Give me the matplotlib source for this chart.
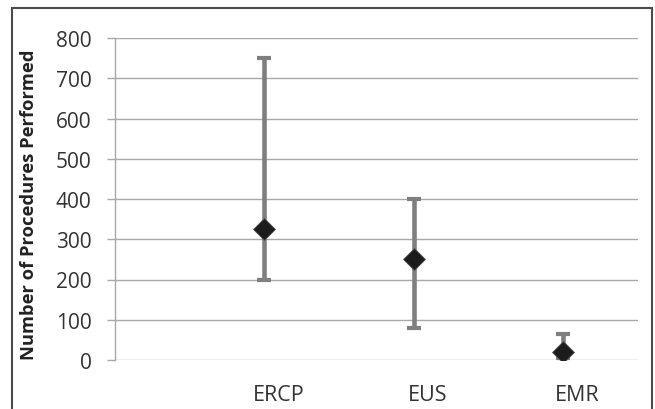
import matplotlib
matplotlib.use("Agg")
import matplotlib.pyplot as plt
from matplotlib.patches import Rectangle
from matplotlib.transforms import ScaledTranslation
import numpy as np

categories = ["ERCP", "EUS", "EMR"]
median_vals = [325, 250, 20]
low_vals = [200, 80, 5]
high_vals = [750, 400, 65]
y_ticks = [0, 100, 200, 300, 400, 500, 600, 700, 800]

plt.rcParams['font.family'] = ['Open Sans', 'DejaVu Sans']

fig = plt.figure(figsize=(6.55, 4.10), dpi=100)
ax = fig.add_axes([115/655, 1-361/410, (638-115)/655, (361-39)/410])

x = np.arange(1, len(categories) + 1)
med = np.array(median_vals)
yerr = [med - np.array(low_vals), np.array(high_vals) - med]
ax.errorbar(x, med, yerr=yerr, fmt='none', ecolor='#7f7f7f', elinewidth=3.3,
            capsize=4.8, capthick=3.0, zorder=3)
ax.plot(x, med, linestyle='none', marker='D', markersize=11.5,
        markerfacecolor='#1c1c1c', markeredgecolor='#555555', markeredgewidth=0.6, zorder=4)

ax.set_xlim(0, 3.5)
ax.set_ylim(0, 800)
ax.set_yticks(y_ticks)
ax.set_yticklabels([str(v) for v in y_ticks], fontsize=15, color='#333333')
ax.yaxis.grid(True, color='#a8a8a8', linewidth=1.0)
ax.set_axisbelow(True)
for s in ['top', 'right', 'bottom']:
    ax.spines[s].set_visible(False)
ax.spines['left'].set_color('#a8a8a8')
ax.spines['left'].set_linewidth(1.0)
ax.tick_params(axis='y', length=5.8, width=1.0, color='#a8a8a8', pad=11)

ax.set_xticks(x)
ax.set_xticklabels(categories, fontsize=15.5, color='#333333')
ax.tick_params(axis='x', length=0, pad=17)
off = ScaledTranslation(14/100, 0, fig.dpi_scale_trans)
for lbl in ax.get_xticklabels():
    lbl.set_transform(lbl.get_transform() + off)

ax.set_ylabel("Number of Procedures Performed", fontsize=13.2, fontweight='bold',
              color='#222222')
ax.yaxis.set_label_coords(38/655, 0.5, transform=fig.transFigure)

fig.patches.append(Rectangle((12/655, -0.1), (652-12)/655, 1.1 - 9/410,
                             transform=fig.transFigure, fill=False,
                             edgecolor='#4a4a4a', linewidth=1.5))

fig.savefig("out.png", dpi=100)
